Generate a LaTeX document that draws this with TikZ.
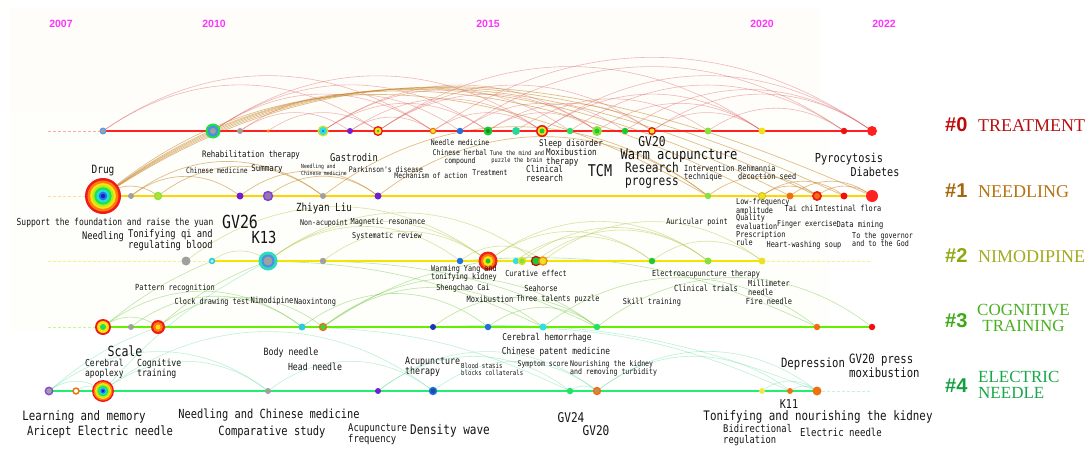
\documentclass[tikz,border=0pt]{standalone}
\usepackage{fontspec}
\setmainfont{Liberation Serif}
\newfontfamily\lbl[FakeStretch=0.83]{DejaVu Sans Mono}
\newfontfamily\hsans{Liberation Sans}
\usetikzlibrary{backgrounds}
\definecolor{txt}{HTML}{141414}
\definecolor{yearc}{HTML}{FF33FF}
\definecolor{rbR}{HTML}{F01818}\definecolor{rbO}{HTML}{FF7A10}\definecolor{rbY}{HTML}{FFE010}
\definecolor{rbL}{HTML}{A8F020}\definecolor{rbG}{HTML}{20E048}\definecolor{rbC}{HTML}{20E0E0}
\definecolor{rbB}{HTML}{2070F0}\definecolor{rbN}{HTML}{2020B0}
\definecolor{gry}{HTML}{A0A0A0}\definecolor{pur}{HTML}{7020D0}\definecolor{blu}{HTML}{2070E0}
\definecolor{cyn}{HTML}{30E0E0}\definecolor{grn}{HTML}{20C830}\definecolor{lim}{HTML}{88E040}
\definecolor{org}{HTML}{F07010}\definecolor{yel}{HTML}{F0E020}\definecolor{red0}{HTML}{F01010}
\definecolor{line0}{HTML}{FF2020}\definecolor{line1}{HTML}{FFD500}\definecolor{line2}{HTML}{F2E600}
\definecolor{line3}{HTML}{66EE00}\definecolor{line4}{HTML}{22EE70}
\definecolor{c0a}{HTML}{C00A0A}\definecolor{c0b}{HTML}{B81010}
\definecolor{c1a}{HTML}{A8640A}\definecolor{c1b}{HTML}{B8720F}
\definecolor{c2a}{HTML}{8EA80F}\definecolor{c2b}{HTML}{A5AA20}
\definecolor{c3a}{HTML}{3CA814}\definecolor{c3b}{HTML}{48B020}
\definecolor{c4a}{HTML}{14A040}\definecolor{c4b}{HTML}{18A848}
\definecolor{arc0}{HTML}{D85050}\definecolor{arc1}{HTML}{C8872A}\definecolor{arc2}{HTML}{B5C84A}
\definecolor{arc3}{HTML}{6CC63C}\definecolor{arc4}{HTML}{5ADC96}
\definecolor{bgc}{HTML}{FEFDF9}
\newcommand\dotn[5]{\node[circle,inner sep=0pt,minimum size=#4pt,fill=#5] (#1) at (#2,#3) {};}
\newcommand\ringn[7]{\node[circle,inner sep=0pt,minimum size=#4pt,fill=#5] (#1) at (#2,#3) {};
  \node[circle,inner sep=0pt,minimum size=#6pt,fill=#7] (#1i) at (#2,#3) {};}
\newcommand\tringn[9]{\node[circle,inner sep=0pt,minimum size=#4pt,fill=#5] (#1) at (#2,#3) {};
  \node[circle,inner sep=0pt,minimum size=#6pt,fill=#7] (#1i) at (#2,#3) {};
  \node[circle,inner sep=0pt,minimum size=#8pt,fill=#9] (#1j) at (#2,#3) {};}
\newcommand\rainb[4]{\node[circle,inner sep=0pt,minimum size=2*#4pt,fill=rbR] (#1) at (#2,#3) {};
  \foreach \f/\c in {0.86/rbO,0.72/rbY,0.6/rbL,0.48/rbG,0.36/rbC,0.24/rbB,0.12/rbN}
    {\node[circle,inner sep=0pt,minimum size=\f*#4*2pt,fill=\c] (#1-\c) at (#2,#3) {};}}
\tikzset{
  lb/.style 2 args={font=\lbl\fontsize{#1}{#2}\selectfont, inner sep=0pt, text=txt},
  yr/.style={font=\hsans\bfseries\fontsize{10.5}{12}\selectfont, text=yearc, inner sep=0pt},
  cnum/.style={font=\hsans\bfseries\fontsize{20}{20}\selectfont, inner sep=0pt, anchor=base west},
  cname/.style={font=\fontsize{18}{16}\selectfont, inner sep=0pt},
  cname2/.style={font=\fontsize{17}{16.5}\selectfont, inner sep=0pt},
  a0/.style={draw=arc0, opacity=0.4, line width=0.6pt},
  a1/.style={draw=arc1, opacity=0.55, line width=0.7pt},
  a2/.style={draw=arc2, opacity=0.5, line width=0.6pt},
  a3/.style={draw=arc3, opacity=0.45, line width=0.6pt},
  a4/.style={draw=arc4, opacity=0.4, line width=0.6pt},
  tl/.style={line width=2pt},
  dl/.style={line width=0.9pt, dash pattern=on 3pt off 2pt},
}
\begin{document}
\begin{tikzpicture}[x=1pt,y=-1pt]
\useasboundingbox (0,0) rectangle (1091,471);
% ---------- year labels
\node[yr] (y07) at (61,24) {2007};
\node[yr] (y10) at (214,24) {2010};
\node[yr] (y15) at (488,24) {2015};
\node[yr] (y20) at (762,24) {2020};
\node[yr] (y22) at (884,24) {2022};
% ---------- line end coordinates
\coordinate (s0) at (48,131); \coordinate (s1) at (48,196); \coordinate (s2) at (48,261);
\coordinate (s3) at (48,327); \coordinate (e2) at (872,261); \coordinate (e4) at (872,391);
% ---------- row 0 nodes
\ringn{n0a}{103}{131}{7}{blu!70!white}{4}{gry}
\tringn{n0b}{213}{131}{15}{rbG}{11}{blu!80!white}{6}{gry}
\dotn{n0c}{240}{131}{6}{gry}
\dotn{n0d}{268}{131}{3.5}{org!80!yel}
\tringn{n0e}{323}{131}{11}{yel!70!lim}{8}{cyn}{2.5}{blu}
\dotn{n0f}{350}{131}{6}{pur}
\tringn{n0g}{378}{131}{10}{red0}{7}{yel}{2.5}{grn}
\ringn{n0h}{433}{131}{6.5}{org}{4}{yel}
\dotn{n0i}{460}{131}{6.5}{blu}
\ringn{n0j}{488}{131}{9}{grn}{4}{grn!70!black}
\dotn{n0k}{516}{131}{8}{cyn!60!grn}
\tringn{n0l}{542}{131}{12}{red0}{9}{yel}{5}{grn}
\dotn{n0m}{570}{131}{6.5}{rbG!80!cyn}
\ringn{n0n}{597}{131}{10}{lim}{5}{grn}
\dotn{n0o}{625}{131}{6.5}{grn}
\ringn{n0p}{652}{131}{8}{red0}{5}{yel}
\dotn{n0q}{708}{131}{7}{lim}
\dotn{n0r}{762}{131}{7}{yel}
\dotn{n0s}{844}{131}{6.5}{red0}
\dotn{n0t}{872}{131}{10}{line0}
% ---------- row 1 nodes
\rainb{n1a}{103}{196}{18}
\dotn{n1b}{131}{196}{6}{gry}
\ringn{n1c}{158}{196}{8.5}{lim}{5.5}{lim!60!yel}
\dotn{n1d}{240}{196}{7}{pur}
\ringn{n1e}{268}{196}{10.5}{pur!85!white}{7}{gry!70!pur}
\dotn{n1f}{323}{196}{6}{gry}
\dotn{n1g}{378}{196}{7}{pur}
\dotn{n1h}{708}{196}{6.5}{lim}
\ringn{n1i}{762}{196}{8}{yel!85!black}{6}{yel}
\dotn{n1j}{790}{196}{7}{org}
\ringn{n1k}{817}{196}{10}{red0!90!org}{6}{org}
\dotn{n1l}{844}{196}{7}{red0}
\dotn{n1m}{872}{196}{12}{line0}
% ---------- row 2 nodes
\dotn{n2a}{186}{261}{9}{gry}
\ringn{n2b}{212}{261}{6.5}{cyn!80!blu}{3.5}{cyn!40!white}
\tringn{n2c}{268}{261}{19}{cyn!80!grn}{13}{blu!80!white}{9}{gry}
\dotn{n2d}{323}{261}{6.5}{gry}
\dotn{n2e}{460}{261}{6.5}{blu}
\node[circle,inner sep=0pt,minimum size=19pt,fill=rbR!85!org] (n2f) at (488,261) {};
\node[circle,inner sep=0pt,minimum size=14pt,fill=rbO] (n2fi) at (488,261) {};
\node[circle,inner sep=0pt,minimum size=10pt,fill=rbY] (n2fj) at (488,261) {};
\node[circle,inner sep=0pt,minimum size=5pt,fill=grn] (n2fk) at (488,261) {};
\dotn{n2g}{516}{261}{6.5}{cyn}
\ringn{n2h}{522}{261}{8.5}{yel!80!lim}{5}{lim}
\ringn{n2i}{536}{261}{10.5}{red0!80!black}{7.5}{grn}
\ringn{n2j}{543}{261}{9.5}{org!80!yel}{6.5}{yel}
\dotn{n2k}{652}{261}{6.5}{grn}
\dotn{n2l}{708}{261}{7}{lim}
\dotn{n2m}{762}{261}{7}{yel}
% ---------- row 3 nodes
\tringn{n3a}{103}{327}{16}{rbR}{12}{rbY}{6}{rbG}
\dotn{n3b}{131}{327}{6}{gry}
\tringn{n3c}{158}{327}{14}{rbR}{10}{rbO}{5}{rbY}
\dotn{n3d}{302}{327}{7}{cyn!80!blu}
\ringn{n3e}{323}{327}{8.5}{org}{5}{rbG}
\dotn{n3f}{433}{327}{6}{rbN!80!blu}
\dotn{n3g}{488}{327}{6.5}{blu}
\dotn{n3h}{543}{327}{7}{cyn}
\dotn{n3i}{597}{327}{6.5}{rbG!80!cyn}
\dotn{n3j}{817}{327}{6.5}{org}
\dotn{n3k}{872}{327}{6.5}{red0}
% ---------- row 4 nodes
\ringn{n4a}{49}{391}{9}{pur!80!white}{5.5}{gry}
\ringn{n4b}{76}{391}{7.5}{org}{4}{white}
\rainb{n4c}{103}{391}{11}
\dotn{n4d}{268}{391}{6}{gry}
\dotn{n4e}{378}{391}{6}{pur}
\ringn{n4f}{433}{391}{8.5}{blu}{5}{rbB!70!black}
\dotn{n4g}{570}{391}{6.5}{rbG!80!cyn}
\ringn{n4h}{597}{391}{8.5}{org}{4.5}{gry!60!org}
\dotn{n4i}{762}{391}{6}{yel!80!white}
\dotn{n4j}{790}{391}{6}{org}
\dotn{n4k}{817}{391}{9}{org}
% ---------- background layer: panels, arcs, timelines
\begin{scope}[on background layer]
\fill[white] (0,0) rectangle (1091,471);
\fill[bgc] (10,8) rectangle (820,112);
\fill[bgc!60!white] (10,112) rectangle (830,330);
\foreach \p/\q in {n0a/n0h,n0a/n0g,n0b/n0h,n0b/n0j,n0b/n0l,n0c/n0f,n0c/n0i,n0d/n0g,n0e/n0j,n0e/n0m,n0e/n0n,
  n0f/n0l,n0g/n0n,n0g/n0p,n0g/n0r,n0h/n0l,n0h/n0t,n0i/n0o,n0i/n0s,n0j/n0p,n0k/n0q,n0l/n0r,n0l/n0t,
  n0m/n0s,n0n/n0r,n0p/n0r,n0p/n0t,n0q/n0s,n0o/n0t,n0j/n0n,n0f/n0h}
  {\draw[a0] (\p.center) to[out=35,in=145] (\q.center);}
\foreach \q/\ang in {n1h/30,n1i/28,n1j/27,n1k/26,n1l/25,n1m/24}
  {\draw[a1] (n1a.center) to[out=\ang+10,in=180-\ang] (\q.center);}
\foreach \p/\q in {n1a/n1c,n1b/n1d,n1b/n1f,n1c/n1f,n1d/n1g,n1e/n1g,n1g/n1h,n1h/n1k,n1i/n1l,n1j/n1m,n1k/n1m,n1i/n1k,n1f/n1h}
  {\draw[a1] (\p.center) to[out=38,in=142] (\q.center);}
\foreach \p/\q in {n2b/n2c,n2a/n2f,n2c/n2f,n2c/n2i,n2d/n2f,n2e/n2j,n2f/n2k,n2f/n2l,n2i/n2l,n2j/n2m,n2k/n2m,n2h/n2l,n2g/n2k,n2c/n2e}
  {\draw[a2] (\p.center) to[out=38,in=142] (\q.center);}
\foreach \p/\q in {n3a/n3c,n3a/n3d,n3c/n3e,n3d/n3g,n3e/n3h,n3f/n3i,n3g/n3i,n3h/n3j,n3i/n3k,n3e/n3i,n3b/n3d}
  {\draw[a3] (\p.center) to[out=38,in=142] (\q.center);}
\draw[a3] (n3a.center) to[bend left=8] (n2b.center);
\draw[a3] (n3c.center) to[bend left=10] (n2c.center);
\draw[a3] (n3e.center) to[bend left=12] (n2f.center);
\draw[a3] (n2c.center) to[bend left=12] (n3h.center);
\draw[a3] (n2d.center) to[bend left=12] (n3i.center);
\draw[a3] (n2e.center) to[bend left=15] (n3j.center);
\foreach \p/\q in {n4a/n4c,n4b/n4c,n4a/n4d,n4c/n4d,n4c/n4f,n4d/n4f,n4e/n4g,n4f/n4h,n4g/n4h,n4h/n4j,n4h/n4k,n4i/n4k,n4j/n4k,n4e/n4h}
  {\draw[a4] (\p.center) to[out=38,in=142] (\q.center);}
\draw[a4] (n4c.center) to[bend left=10] (n2c.center);
\draw[a4] (n4a.center) to[bend left=10] (n3c.center);
\draw[a4] (n3g.center) to[bend left=12] (n4j.center);
\draw[a4] (n3f.center) to[bend left=12] (n4k.center);
\draw[a4] (n3d.center) to[bend left=12] (n4g.center);
% timelines
\draw[dl, draw=line0!40!white] (s0) -- (n0a.center);
\draw[tl, draw=line0] (n0a.center) -- (n0t.center);
\draw[dl, draw=line1!50!rbO!40!white] (s1) -- (n1a.center);
\draw[tl, draw=line1] (n1a.center) -- (n1m.center);
\draw[dl, draw=line2!50!white] (s2) -- (n2b.center);
\draw[tl, draw=line2] (n2b.center) -- (n2m.center);
\draw[dl, draw=line2!50!white] (n2m.center) -- (e2);
\draw[dl, draw=line3!40!white] (s3) -- (n3a.center);
\draw[tl, draw=line3] (n3a.center) -- (n3k.center);
\draw[tl, draw=line4] (n4a.center) -- (n4k.center);
\draw[dl, draw=line4!30!white] (n4k.center) -- (e4);
\end{scope}
% ---------- cluster labels
\node[cnum, text=c0a] (k0) at (945,131) {\#0};
\node[cname, anchor=base west, text=c0b] (k0t) at (978,131) {TREATMENT};
\node[cnum, text=c1a] (k1) at (945,197) {\#1};
\node[cname, anchor=base west, text=c1b] (k1t) at (978,197) {NEEDLING};
\node[cnum, text=c2a] (k2) at (945,262) {\#2};
\node[cname, anchor=base west, text=c2b] (k2t) at (978,262) {NIMODIPINE};
\node[cnum, text=c3a] (k3) at (945,327) {\#3};
\node[cname2, anchor=west, align=center, text=c3b] (k3t) at (977,318) {COGNITIVE\\TRAINING};
\node[cnum, text=c4a] (k4) at (945,392) {\#4};
\node[cname2, anchor=west, align=left, text=c4b] (k4t) at (978,385) {ELECTRIC\\NEEDLE};
% ---------- term labels, row 0/1 zone
\node[lb={8.9}{9}] (t1) at (251,155) {Rehabilitation therapy};
\node[lb={7.7}{8}] (t2) at (217,171) {Chinese medicine};
\node[lb={9}{9}] (t3) at (267,169) {Summary};
\node[lb={5.7}{5.5}, anchor=west, align=left] (t4) at (301,170) {Needling and\\Chinese medicine};
\node[lb={10.6}{11}] (t5) at (354,158) {Gastrodin};
\node[lb={7.8}{8}] (t6) at (386,170) {Parkinson's disease};
\node[lb={11.4}{12}] (t7) at (103,171) {Drug};
\node[lb={7.8}{8}] (t8) at (460,143) {Needle medicine};
\node[lb={7.8}{8}, align=center] (t9) at (460,157) {Chinese herbal\\compound};
\node[lb={6.4}{6.5}, align=center] (t10) at (517,157) {Tune the mind and\\puzzle the brain};
\node[lb={7.7}{8}] (t11) at (431,176) {Mechanism of action};
\node[lb={7.8}{8}] (t12) at (490,173) {Treatment};
\node[lb={9.1}{9}] (t13) at (571,144) {Sleep disorder};
\node[lb={9.2}{9}, anchor=west, align=left] (t14) at (546,157.5) {Moxibustion\\therapy};
\node[lb={9.2}{9}, anchor=west, align=left] (t15) at (526,173.5) {Clinical\\research};
\node[lb={16.2}{16}] (t16) at (600,171) {TCM};
\node[lb={13.6}{14}] (t17) at (652,142) {GV20};
\node[lb={14.6}{15}] (t18) at (679,156) {Warm acupuncture};
\node[lb={13.4}{13}, anchor=west, align=left] (t19) at (625,175.5) {Research\\progress};
\node[lb={8.4}{8}, anchor=west, align=left] (t20) at (684,173) {Intervention\\technique};
\node[lb={8.3}{8}, anchor=west, align=left] (t21) at (738,172) {Rehmannia\\decoction seed};
\node[lb={12.4}{12}] (t22) at (849,159) {Pyrocytosis};
\node[lb={12.2}{12}] (t23) at (875,172) {Diabetes};
% ---------- row 1/2 zone
\node[lb={8.2}{7}, anchor=west, align=left] (t24) at (736,206.5) {Low-frequency\\amplitude};
\node[lb={8.2}{8}] (t25) at (799,208) {Tai chi};
\node[lb={8.3}{8}] (t26) at (848,208) {Intestinal flora};
\node[lb={8.2}{7}, anchor=west, align=left] (t27) at (736,221.5) {Quality\\evaluation};
\node[lb={8}{8}] (t28) at (807,224) {Finger exercise};
\node[lb={8.5}{8}] (t29) at (860,225) {Data mining};
\node[lb={8.2}{8}, anchor=west, align=left] (t30) at (736,238) {Prescription\\rule};
\node[lb={8.3}{8}] (t31) at (804,245) {Heart-washing soup};
\node[lb={8.1}{8}, anchor=west, align=left] (t32) at (852,239) {To the governor\\and to the God};
\node[lb={9.6}{10}] (t33) at (115,223) {Support the foundation and raise the yuan};
\node[lb={18}{18}] (t34) at (240,222) {GV26};
\node[lb={11.2}{11}] (t35) at (324,208) {Zhiyan Liu};
\node[lb={8}{8}] (t36) at (324,223) {Non-acupoint};
\node[lb={8.3}{8}] (t37) at (388,222) {Magnetic resonance};
\node[lb={8.2}{8}] (t38) at (697,222) {Auricular point};
\node[lb={10.5}{10}] (t39) at (103,237) {Needling};
\node[lb={10.6}{10}, anchor=east, align=right] (t40) at (213,240) {Tonifying qi and\\regulating blood};
\node[lb={16.6}{16}] (t41) at (264,237) {K13};
\node[lb={8.2}{8}] (t42) at (387,236) {Systematic review};
% ---------- row 2/3 zone
\node[lb={8.2}{8}, anchor=west, align=left] (t43) at (431,273) {Warming Yang and\\tonifying kidney};
\node[lb={8.2}{8}] (t44) at (536,273) {Curative effect};
\node[lb={8.3}{8}] (t45) at (706,274) {Electroacupuncture therapy};
\node[lb={8.4}{8}] (t46) at (175,288) {Pattern recognition};
\node[lb={8.2}{8}] (t47) at (463,288) {Shengchao Cai};
\node[lb={8.3}{8}] (t48) at (541,288) {Seahorse};
\node[lb={8.5}{8}] (t49) at (706,288) {Clinical trials};
\node[lb={8.3}{9}, anchor=west, align=left] (t50) at (748,287.5) {Millimeter\\needle};
\node[lb={8.4}{8}] (t51) at (769,301) {Fire needle};
\node[lb={8.3}{8}] (t52) at (212,302) {Clock drawing test};
\node[lb={8.6}{8}] (t53) at (272,301) {Nimodipine};
\node[lb={8.4}{8}] (t54) at (315,302) {Naoxintong};
\node[lb={8.5}{8}] (t55) at (490,299) {Moxibustion};
\node[lb={8.3}{8}] (t56) at (558,299) {Three talents puzzle};
\node[lb={8.3}{8}] (t57) at (652,302) {Skill training};
\node[lb={9.4}{9}] (t58) at (547,338) {Cerebral hemorrhage};
% ---------- row 3/4 zone
\node[lb={14}{14}] (t59) at (125,351) {Scale};
\node[lb={9.6}{10}, anchor=west, align=left] (t60) at (85,369) {Cerebral\\apoplexy};
\node[lb={9.8}{10}, anchor=west, align=left] (t61) at (137,369) {Cognitive\\training};
\node[lb={10}{10}] (t62) at (291,353) {Body needle};
\node[lb={9.8}{10}] (t63) at (315,367) {Head needle};
\node[lb={9.4}{9}] (t64) at (556,352) {Chinese patent medicine};
\node[lb={10}{10}, anchor=west, align=left] (t65) at (405,367) {Acupuncture\\therapy};
\node[lb={6.9}{7}, anchor=west, align=left] (t66) at (461,369.5) {Blood stasis\\blocks collaterals};
\node[lb={7.8}{8}] (t67) at (543,364) {Symptom score};
\node[lb={7.9}{8}, anchor=west, align=left] (t68) at (570,368) {Nourishing the kidney\\and removing turbidity};
\node[lb={12.8}{13}] (t69) at (813,364) {Depression};
\node[lb={12.8}{12}, anchor=west, align=left] (t70) at (849,366) {GV20 press\\moxibustion};
% ---------- below row 4
\node[lb={13}{13}] (t71) at (84,417) {Learning and memory};
\node[lb={12.7}{13}] (t72) at (100,432) {Aricept Electric needle};
\node[lb={12.5}{13}] (t73) at (269,415) {Needling and Chinese medicine};
\node[lb={12.6}{13}] (t74) at (272,432) {Comparative study};
\node[lb={10.7}{10}, anchor=west, align=left] (t75) at (348,434) {Acupuncture\\frequency};
\node[lb={13.3}{13}] (t76) at (450,431) {Density wave};
\node[lb={13.4}{13}] (t77) at (571,418) {GV24};
\node[lb={13.4}{13}] (t78) at (596,431) {GV20};
\node[lb={12.2}{12}] (t79) at (789,404) {K11};
\node[lb={13.1}{13}] (t80) at (818,417) {Tonifying and nourishing the kidney};
\node[lb={10.6}{11}, anchor=west, align=left] (t81) at (723,435.5) {Bidirectional\\regulation};
\node[lb={10.9}{11}] (t82) at (841,432) {Electric needle};
\end{tikzpicture}
\end{document}
